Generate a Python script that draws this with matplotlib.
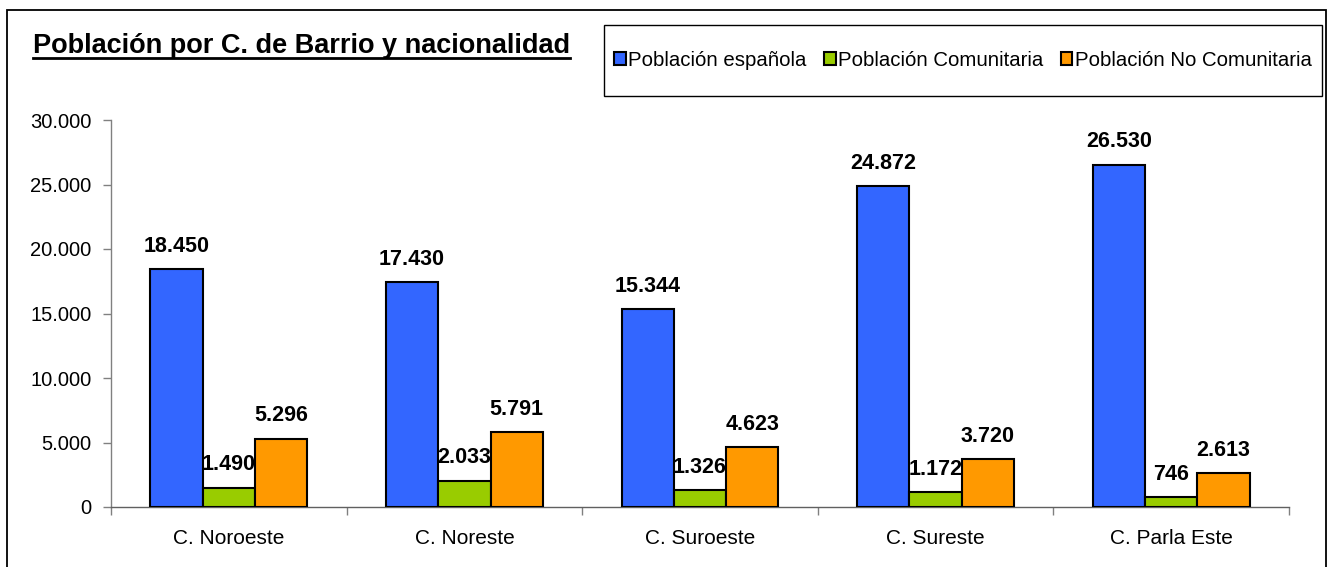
import matplotlib
matplotlib.use("Agg")
import matplotlib.pyplot as plt
from matplotlib.patches import Rectangle
from matplotlib.lines import Line2D
from matplotlib.ticker import FuncFormatter, FixedLocator
import numpy as np

plt.rcParams['font.family'] = ['Liberation Sans', 'DejaVu Sans']

categories = ["C. Noroeste", "C. Noreste", "C. Suroeste", "C. Sureste", "C. Parla Este"]
series_names = ["Población española", "Población Comunitaria", "Población No Comunitaria"]
espanola = [18450, 17430, 15344, 24872, 26530]
comunitaria = [1490, 2033, 1326, 1172, 746]
no_comunitaria = [5296, 5791, 4623, 3720, 2613]
y_ticks = [0, 5000, 10000, 15000, 20000, 25000, 30000]
colors = ["#3366FF", "#99CC00", "#FF9900"]
title = "Población por C. de Barrio y nacionalidad"

W, H = 1331, 567
fig = plt.figure(figsize=(W / 100, H / 100), dpi=100)

def fx(px):
    return px / W

def fy(py):
    return 1 - py / H

ax = fig.add_axes([fx(111), fy(507), fx(1289) - fx(111), fy(120) - fy(507)])

x = np.arange(len(categories))
bw = 0.222
series = [espanola, comunitaria, no_comunitaria]
handles = []
for i, (vals, col, name) in enumerate(zip(series, colors, series_names)):
    pos = x + (i - 1) * bw
    bars = ax.bar(pos, vals, width=bw, color=col, edgecolor="black", linewidth=1.5,
                  label=name, zorder=3)
    handles.append(bars)
    for xp, v in zip(pos, vals):
        lab = f"{v:,}".replace(",", ".")
        ax.annotate(lab, (xp, v), xytext=(0, 12.5), textcoords="offset points",
                    ha="center", va="baseline", fontsize=15.5, fontweight="bold",
                    zorder=5, annotation_clip=False)

ax.set_xlim(-0.5, len(categories) - 0.5)
ax.set_ylim(0, 30000)
ax.set_yticks(y_ticks)
ax.yaxis.set_major_formatter(FuncFormatter(lambda v, p: f"{int(v):,}".replace(",", ".")))
ax.tick_params(axis="y", direction="out", length=6, width=1, colors="#808080",
               labelcolor="black", labelsize=14.5, pad=8)
ax.set_xticks(x)
ax.set_xticklabels(categories)
ax.tick_params(axis="x", which="major", length=0, labelsize=15, pad=16)
ax.xaxis.set_minor_locator(FixedLocator(np.arange(-0.5, len(categories), 1.0)))
ax.tick_params(axis="x", which="minor", direction="out", length=6, width=1, colors="#808080")
for s in ["top", "right"]:
    ax.spines[s].set_visible(False)
ax.spines["left"].set_color("#808080")
ax.spines["bottom"].set_color("#606060")
ax.spines["left"].set_linewidth(1)
ax.spines["bottom"].set_linewidth(1)

# outer chart border
fig.patches.append(Rectangle((fx(7), fy(580)), fx(1326) - fx(7), fy(10) - fy(580),
                             transform=fig.transFigure, fill=False, edgecolor="black",
                             linewidth=1.3, clip_on=False))

# legend box
fig.patches.append(Rectangle((fx(604), fy(96)), fx(1322) - fx(604), fy(25) - fy(96),
                             transform=fig.transFigure, fill=False, edgecolor="black",
                             linewidth=1.0))
leg = fig.legend(handles=handles, labels=series_names, loc="center",
                 bbox_to_anchor=(fx((604 + 1322) / 2), fy(60)), ncol=3, frameon=False,
                 fontsize=14.7, handlelength=0.57, handleheight=0.57,
                 handletextpad=0.12, columnspacing=0.85, borderpad=0)

# title with underline
t = fig.text(fx(33), fy(53), title, fontsize=19.5, fontweight="bold", ha="left", va="baseline")
fig.canvas.draw()
bb = t.get_window_extent()
fig.lines.append(Line2D([bb.x0 / W, bb.x1 / W], [fy(58), fy(58)], transform=fig.transFigure,
                        color="black", linewidth=2.0))

fig.savefig("out.png", dpi=100)
